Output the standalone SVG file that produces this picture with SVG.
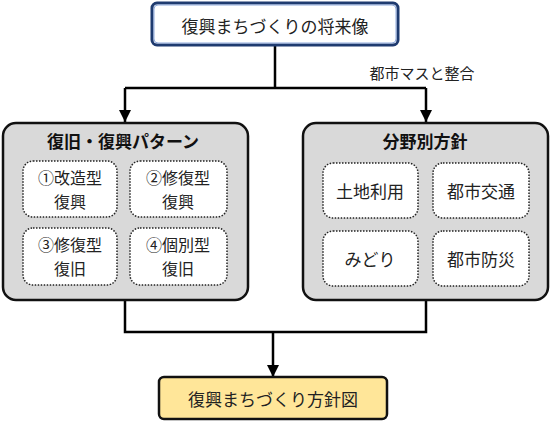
<svg xmlns="http://www.w3.org/2000/svg" width="560" height="421" viewBox="0 0 560 421">
<defs>
<marker id="ah" markerUnits="userSpaceOnUse" markerWidth="14" markerHeight="12" refX="12" refY="6" orient="auto">
<path d="M0,0 L12,6 L0,12 Z" fill="#000"/>
</marker>
<style>
text{font-family:"Noto Sans CJK JP","Noto Sans",sans-serif;fill:#222;text-anchor:middle;dominant-baseline:central}
.t{font-size:17px}
.t2{font-size:16px}
.h{font-size:17px;font-weight:bold;fill:#111}
.grp{fill:#D9D9D9;stroke:#111;stroke-width:2.5}
.in{fill:#fff;stroke:#222;stroke-width:1.5;stroke-dasharray:1.5 1.5}
.ln{fill:none;stroke:#000;stroke-width:2.5}
</style>
</defs>
<rect width="560" height="421" fill="#fff"/>
<g id="connectors">
<path class="ln" d="M275,45 V88 M125,88 H426"/>
<path class="ln" d="M125,88 V122" marker-end="url(#ah)"/>
<path class="ln" d="M426,88 V122" marker-end="url(#ah)"/>
<path class="ln" d="M125,300 V332 H426 V300"/>
<path class="ln" d="M273,332 V377" marker-end="url(#ah)"/>
<text x="422" y="72" style="font-size:15px">都市マスと整合</text>
</g>
<g id="vision">
<rect x="152" y="3" width="246" height="42" rx="5" fill="#fff" stroke="#1F3B70" stroke-width="3"/>
<rect x="154" y="5" width="242" height="38" rx="4" fill="none" stroke="#8FAADC" stroke-width="1"/>
<text class="t" x="275" y="25">復興まちづくりの将来像</text>
</g>
<g id="patterns">
<rect class="grp" x="3" y="123" width="245" height="177" rx="13"/>
<text class="h" x="123" y="140">復旧・復興パターン</text>
<g id="p1"><rect class="in" x="23" y="161" width="94" height="56" rx="10"/><text class="t2" x="70" y="177">①改造型</text><text class="t2" x="70" y="200.5">復興</text></g>
<g id="p2"><rect class="in" x="130" y="161" width="97" height="56" rx="10"/><text class="t2" x="178" y="177">②修復型</text><text class="t2" x="178" y="200.5">復興</text></g>
<g id="p3"><rect class="in" x="23" y="228" width="94" height="57" rx="10"/><text class="t2" x="70" y="244">③修復型</text><text class="t2" x="70" y="267.5">復旧</text></g>
<g id="p4"><rect class="in" x="130" y="228" width="97" height="57" rx="10"/><text class="t2" x="178" y="244">④個別型</text><text class="t2" x="178" y="267.5">復旧</text></g>
</g>
<g id="fields">
<rect class="grp" x="303" y="123" width="245" height="177" rx="13"/>
<text class="h" x="425" y="140">分野別方針</text>
<g id="f1"><rect class="in" x="323" y="163" width="95" height="55" rx="10"/><text class="t" x="370" y="190">土地利用</text></g>
<g id="f2"><rect class="in" x="433" y="163" width="96" height="55" rx="10"/><text class="t" x="481" y="190">都市交通</text></g>
<g id="f3"><rect class="in" x="323" y="231" width="95" height="55" rx="10"/><text class="t" x="370" y="258">みどり</text></g>
<g id="f4"><rect class="in" x="433" y="231" width="96" height="55" rx="10"/><text class="t" x="481" y="258">都市防災</text></g>
</g>
<g id="policymap">
<rect x="159" y="377" width="228" height="42" rx="5" fill="#FFE699" stroke="#111" stroke-width="2.5"/>
<text class="t" x="273" y="398">復興まちづくり方針図</text>
</g>
</svg>
